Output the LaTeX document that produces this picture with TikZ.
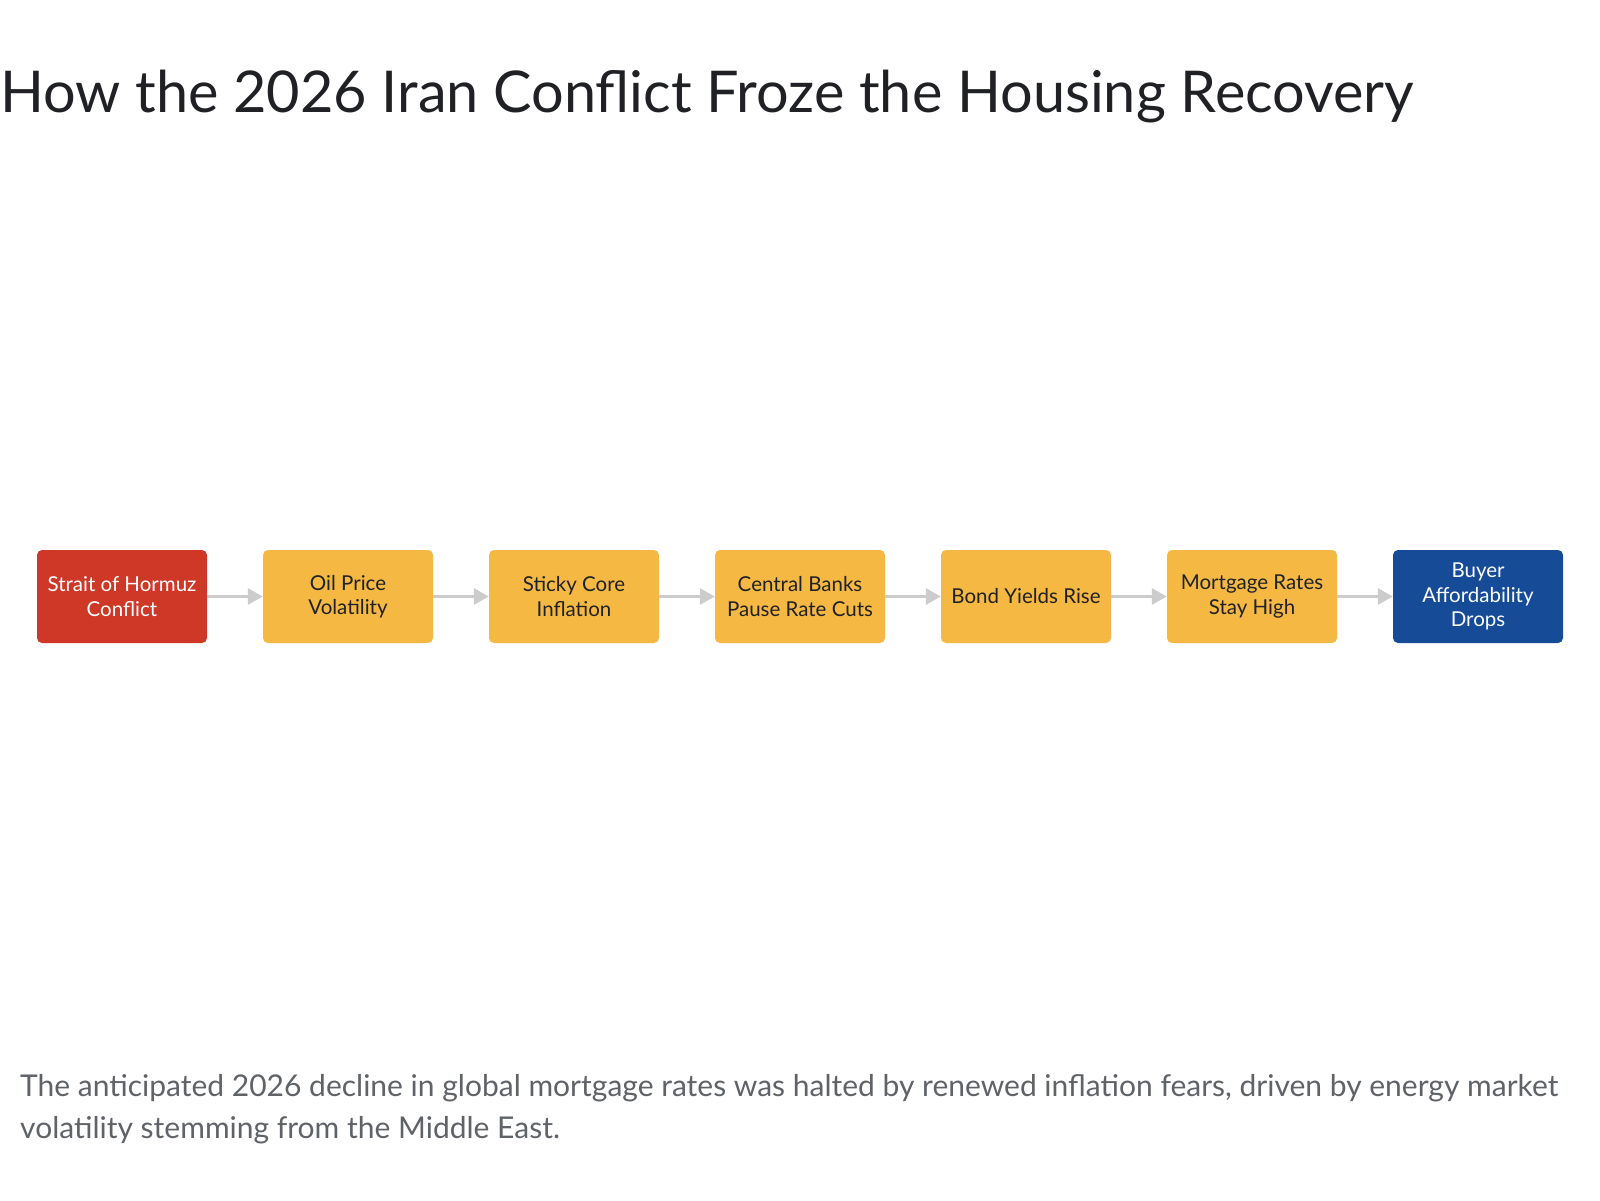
\documentclass[tikz,border=0pt]{standalone}
\usepackage{fontspec}
\setmainfont{Lato}
\usetikzlibrary{arrows.meta}
\definecolor{redbox}{HTML}{CF3826}
\definecolor{yellowbox}{HTML}{F5B843}
\definecolor{bluebox}{HTML}{164B97}
\definecolor{darktext}{HTML}{202124}
\definecolor{captiontext}{HTML}{5F6368}
\definecolor{arrowgray}{HTML}{CCCCCC}
\begin{document}
\begin{tikzpicture}[x=1pt,y=-1pt,
  box/.style={minimum width=170pt,minimum height=93pt,inner sep=0pt,rounded corners=5pt,align=center,
    font=\fontsize{20.5}{24.5}\selectfont},
  midbox/.style={box,fill=yellowbox,text=darktext},
  startbox/.style={box,fill=redbox,text=white},
  endbox/.style={box,fill=bluebox,text=white},
  flow/.style={arrowgray,line width=3pt,-{Triangle[length=15pt,width=16pt]}}]
\useasboundingbox[fill=white] (0,0) rectangle (1600,1200);
\node[anchor=base west,inner sep=0pt,text=darktext,font=\fontsize{57.6}{70}\selectfont] (title) at (0,112) {How the 2026 Iran Conflict Froze the Housing Recovery};
\node[startbox] (n1) at (122,596.5) {Strait of Hormuz\\Conflict};
\node[midbox] (n2) at (348,596.5) {Oil Price\\Volatility};
\node[midbox] (n3) at (574,596.5) {Sticky Core\\Inflation};
\node[midbox] (n4) at (800,596.5) {Central Banks\\Pause Rate Cuts};
\node[midbox] (n5) at (1026,596.5) {Bond Yields Rise};
\node[midbox] (n6) at (1252,596.5) {Mortgage Rates\\Stay High};
\node[endbox] (n7) at (1478,596.5) {Buyer\\Affordability\\Drops};
\draw[flow] (n1) -- (n2);
\draw[flow] (n2) -- (n3);
\draw[flow] (n3) -- (n4);
\draw[flow] (n4) -- (n5);
\draw[flow] (n5) -- (n6);
\draw[flow] (n6) -- (n7);
\node[anchor=base west,inner sep=0pt,align=left,text=captiontext,font=\fontsize{30}{41.5}\selectfont] (caption) at (20,1138) {The anticipated 2026 decline in global mortgage rates was halted by renewed inflation fears, driven by energy market\\volatility stemming from the Middle East.};
\end{tikzpicture}
\end{document}
